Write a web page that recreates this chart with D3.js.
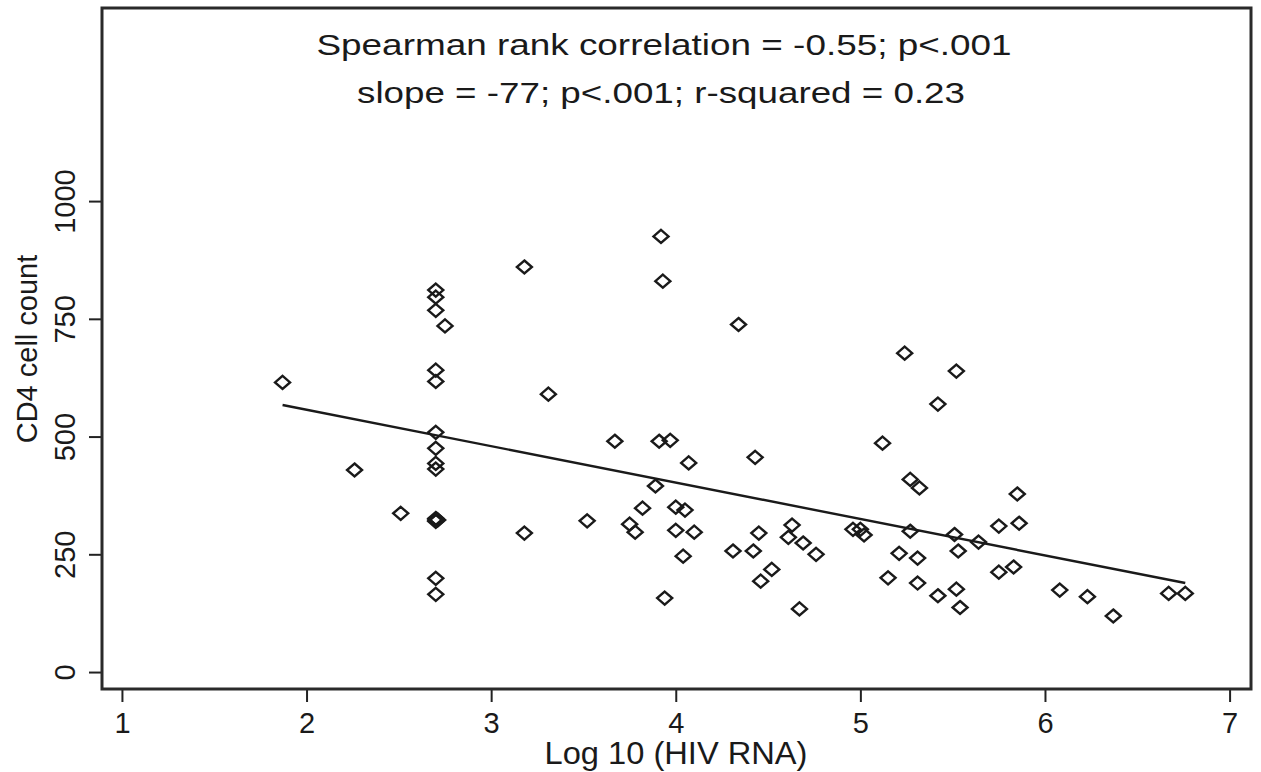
<!DOCTYPE html>
<html lang="en">
<head>
    <meta charset="UTF-8">
    <title>CD4 vs HIV RNA</title>
    <script src="https://d3js.org/d3.v7.min.js"></script>
    <style>
        body { margin: 0; background: #fff; }
        svg text { font-family: "Liberation Sans", Arial, sans-serif; fill: #1a1a1a; }
        .tick line { stroke: #222; stroke-width: 2; }
        .tick text { font-size: 29px; }
        .axis-label { font-size: 29px; }
        .x-label { font-size: 31px; }
        .note { font-size: 30px; text-anchor: middle; }
        .pt { fill: none; stroke: #1a1a1a; stroke-width: 2.4; }
    </style>
</head>
<body>
    <svg width="1261" height="772"></svg>
    <script>
        // values
        const hivRna = [1.87, 2.26, 2.51, 2.70, 2.70, 2.70, 2.70, 2.70, 2.70, 2.70, 2.70, 2.70,
            2.70, 2.70, 2.70, 2.71, 2.70, 2.70, 2.75, 3.18, 3.31, 3.92, 3.93, 4.34,
            3.67, 3.91, 3.97, 4.07, 4.43, 3.89, 3.82, 4.00, 4.05, 3.18, 3.52, 3.75,
            3.78, 4.00, 4.10, 4.04, 3.94, 4.31, 4.42, 4.45, 4.63, 4.61, 4.69, 4.76,
            4.52, 4.46, 4.67, 5.24, 5.52, 5.42, 5.12, 5.27, 5.32, 5.85, 5.86, 5.75,
            4.96, 5.00, 5.02, 5.27, 5.51, 5.64, 5.21, 5.31, 5.53, 5.75, 5.83, 5.15,
            5.31, 5.42, 5.52, 5.54, 6.08, 6.23, 6.37, 6.67, 6.76];
        const cd4 = [615, 429, 337, 811, 796, 768, 641, 617, 509, 475, 443, 431,
            326, 323, 320, 323, 199, 165, 735, 860, 590, 925, 830, 738,
            490, 490, 492, 444, 456, 395, 348, 350, 344, 295, 321, 314,
            297, 301, 297, 246, 157, 257, 257, 295, 312, 286, 274, 250,
            218, 193, 134, 677, 639, 569, 486, 409, 391, 378, 316, 310,
            303, 303, 291, 299, 292, 276, 252, 242, 257, 212, 223, 200,
            189, 162, 176, 137, 174, 160, 119, 167, 167];
        const fitX = [1.87, 6.76];
        const fitY = [567, 189];
        const xTicks = [1, 2, 3, 4, 5, 6, 7];
        const yTicks = [0, 250, 500, 750, 1000];
        const notes = ["Spearman rank correlation = -0.55; p<.001",
            "slope = -77; p<.001; r-squared = 0.23"];
        const noteWidths = [695, 608];

        const frame = { left: 102, top: 8, right: 1251, bottom: 689 };
        const svg = d3.select("svg");

        const x = d3.scaleLinear().domain([0.892, 7.116]).range([frame.left, frame.right]);
        const y = d3.scaleLinear().domain([-36, 1410]).range([frame.bottom, frame.top]);

        svg.append("g")
            .attr("transform", `translate(0,${frame.bottom})`)
            .call(d3.axisBottom(x).tickValues(xTicks).tickSize(13).tickPadding(5).tickFormat(d3.format("d")))
            .call(g => g.select(".domain").remove())
            .selectAll("text").attr("dy", "0.9em");

        const yAxis = svg.append("g")
            .attr("transform", `translate(${frame.left},0)`)
            .call(d3.axisLeft(y).tickValues(yTicks).tickSize(13).tickFormat(d3.format("d")))
            .call(g => g.select(".domain").remove());
        yAxis.selectAll(".tick text")
            .attr("x", null).attr("dy", null)
            .attr("text-anchor", "middle")
            .attr("transform", "translate(-27,0) rotate(-90)");

        svg.append("rect")
            .attr("x", frame.left).attr("y", frame.top)
            .attr("width", frame.right - frame.left)
            .attr("height", frame.bottom - frame.top)
            .attr("fill", "none").attr("stroke", "#2a2a2a").attr("stroke-width", 3);

        svg.append("line")
            .attr("x1", x(fitX[0])).attr("y1", y(fitY[0]))
            .attr("x2", x(fitX[1])).attr("y2", y(fitY[1]))
            .attr("stroke", "#1a1a1a").attr("stroke-width", 2.4);

        const diamond = "M0,-6.5L7.5,0L0,6.5L-7.5,0Z";
        svg.selectAll(".pt")
            .data(hivRna.map((v, i) => [v, cd4[i]]))
            .enter()
            .append("path")
            .attr("class", "pt")
            .attr("d", diamond)
            .attr("transform", d => `translate(${x(d[0])},${y(d[1])})`);

        svg.selectAll(".note")
            .data(notes)
            .enter()
            .append("text")
            .attr("class", "note")
            .attr("x", (d, i) => i === 0 ? 664 : 661)
            .attr("y", (d, i) => 55 + i * 48)
            .attr("textLength", (d, i) => noteWidths[i])
            .attr("lengthAdjust", "spacingAndGlyphs")
            .text(d => d);

        svg.append("text")
            .attr("class", "x-label")
            .attr("x", 676).attr("y", 764)
            .attr("text-anchor", "middle")
            .attr("textLength", 263)
            .attr("lengthAdjust", "spacingAndGlyphs")
            .text("Log 10 (HIV RNA)");

        svg.append("text")
            .attr("class", "axis-label")
            .attr("transform", "translate(37,349) rotate(-90)")
            .attr("text-anchor", "middle")
            .text("CD4 cell count");
    </script>
</body>
</html>
